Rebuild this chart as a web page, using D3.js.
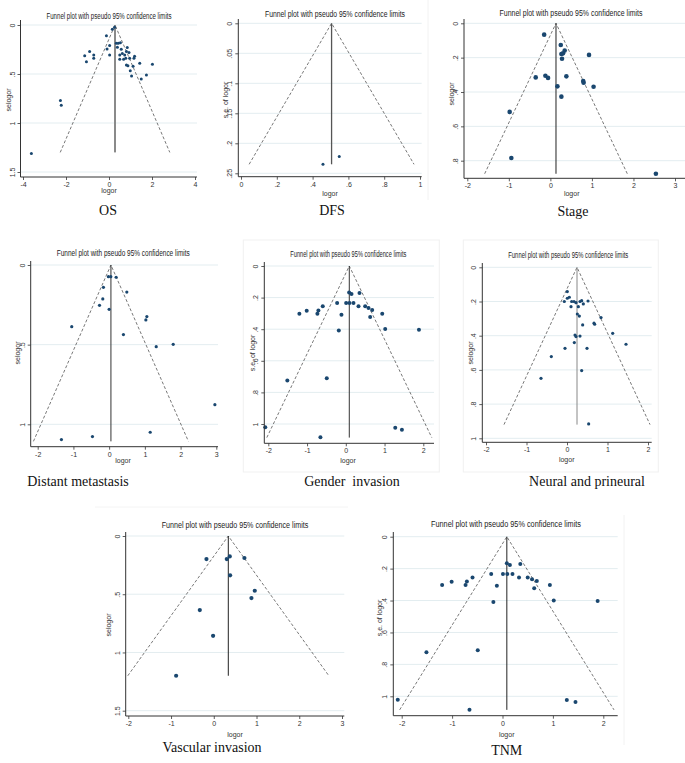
<!DOCTYPE html>
<html><head><meta charset="utf-8">
<script src="https://cdn.jsdelivr.net/npm/d3@7"></script>
<style>body{margin:0;background:#fff}svg{display:block}</style>
</head><body>
<svg id="c" width="685" height="763"></svg>
<script>
const titleText = "Funnel plot with pseudo 95% confidence limits";

// [logor, se] pairs
const osPoints = [[-3.61,1.31],[-2.26,0.77],[-2.22,0.82],[-1.13,0.315],[-1.05,0.376],[-0.90,0.27],[-0.71,0.305],[-0.71,0.34],
 [-0.12,0.11],[-0.09,0.244],[0.03,0.21],[0.03,0.305],[0.155,0.044],[0.26,0.024],[0.34,0.186],[0.39,0.227],[0.43,0.186],
 [0.50,0.305],[0.50,0.35],[0.53,0.18],[0.57,0.247],[0.62,0.29],[0.68,0.35],[0.73,0.305],[0.78,0.34],[0.81,0.27],[0.81,0.407],
 [0.85,0.23],[0.88,0.417],[0.93,0.28],[0.96,0.34],[0.99,0.468],[1.05,0.52],[1.12,0.42],[1.16,0.34],[1.19,0.32],[1.43,0.39],
 [1.50,0.55],[1.74,0.51],[2.02,0.40]];
const dfsPoints = [[0.458,0.235],[0.549,0.222]];
const stagePoints = [[-0.15,0.066],[0.25,0.126],[0.265,0.179],[0.305,0.175],[0.345,0.159],[0.28,0.206],[0.93,0.184],
 [-0.353,0.315],[-0.12,0.305],[-0.056,0.318],[0.385,0.309],[0.79,0.336],[0.80,0.346],[0.17,0.367],[1.04,0.369],
 [0.265,0.427],[-0.98,0.516],[-0.94,0.784],[2.54,0.876]];
const distantPoints = [[-0.02,0.073],[0.047,0.073],[0.196,0.077],[-0.16,0.14],[0.495,0.17],[-0.178,0.213],[-0.27,0.253],
 [0.0,0.278],[1.056,0.324],[1.028,0.345],[-1.047,0.387],[0.40,0.437],[1.318,0.513],[1.794,0.498],[2.96,0.877],
 [1.15,1.05],[-0.467,1.077],[-1.336,1.096]];
const genderPoints = [[-2.078,1.021],[-1.509,0.724],[-1.198,0.302],[-1.009,0.283],[-0.733,0.302],[-0.707,0.281],[-0.595,0.255],
 [-0.491,0.711],[-0.655,1.084],[-0.224,0.234],[-0.181,0.409],[-0.112,0.308],[0.009,0.234],[0.086,0.167],[0.095,0.234],
 [0.147,0.177],[0.198,0.234],[0.328,0.255],[0.353,0.171],[0.50,0.255],[0.586,0.266],[0.629,0.323],[0.681,0.278],
 [0.94,0.302],[1.017,0.399],[1.888,0.403],[1.276,1.023],[1.448,1.036]];
const neuralPoints = [[0.008,0.142],[0.008,0.181],[0.058,0.175],[-0.066,0.2],[0.115,0.2],[0.173,0.2],[0.222,0.207],[0.099,0.23],
 [0.28,0.23],[0.321,0.2],[0.362,0.195],[0.403,0.214],[0.519,0.197],[0.255,0.273],[0.305,0.285],[0.84,0.294],[0.667,0.327],
 [0.683,0.333],[0.387,0.337],[1.128,0.386],[0.198,0.396],[0.222,0.405],[0.321,0.402],[0.181,0.44],[-0.049,0.474],
 [0.494,0.474],[1.457,0.45],[-0.387,0.522],[0.362,0.604],[-0.642,0.649],[0.535,0.916]];
const vascularPoints = [[-0.171,0.198],[0.304,0.198],[0.374,0.175],[0.717,0.189],[0.382,0.338],[0.959,0.47],[0.881,0.533],
 [-0.327,0.636],[-0.016,0.857],[-0.881,1.2]];
const tnmPoints = [[-2.078,1.021],[-1.509,0.724],[-1.198,0.302],[-1.009,0.283],[-0.733,0.302],[-0.707,0.281],[-0.595,0.255],
 [-0.491,0.711],[-0.655,1.084],[-0.224,0.234],[-0.181,0.409],[-0.112,0.308],[0.009,0.234],[0.086,0.167],[0.095,0.234],
 [0.147,0.177],[0.198,0.234],[0.328,0.255],[0.353,0.171],[0.50,0.255],[0.586,0.266],[0.629,0.323],[0.681,0.278],
 [0.94,0.302],[1.017,0.399],[1.888,0.403],[1.276,1.023],[1.448,1.036]];

// pooled estimate and max se per panel
const centers = {OS:0.28, DFS:0.506, Stage:0.135, Distant:0.05, Gender:0.09, Neural:0.247, Vascular:0.34, TNM:0.086};
const seMax   = {OS:1.3, DFS:0.235, Stage:0.876, Distant:1.107, Gender:1.086, Neural:0.92, Vascular:1.2, TNM:1.085};

const ticksA = {x:[-4,-2,0,2,4], xl:["-4","-2","0","2","4"], y:[0,0.5,1,1.5], yl:["0",".5","1","1.5"]};
const ticksB = {x:[0,0.2,0.4,0.6,0.8,1], xl:["0",".2",".4",".6",".8","1"], y:[0,0.05,0.1,0.15,0.2,0.25], yl:["0",".05",".1",".15",".2",".25"]};
const ticksC = {x:[-2,-1,0,1,2,3], xl:["-2","-1","0","1","2","3"], y:[0,0.2,0.4,0.6,0.8], yl:["0",".2",".4",".6",".8"]};
const ticksD = {x:[-2,-1,0,1,2,3], xl:["-2","-1","0","1","2","3"], y:[0,0.5,1], yl:["0",".5","1"]};
const ticksE = {x:[-2,-1,0,1,2], xl:["-2","-1","0","1","2"], y:[0,0.2,0.4,0.6,0.8,1], yl:["0",".2",".4",".6",".8","1"]};
const ticksF = {x:[-2,-1,0,1,2,3], xl:["-2","-1","0","1","2","3"], y:[0,0.5,1,1.5], yl:["0",".5","1","1.5"]};

const panels = [
 {key:"OS", cap:"OS", pts:osPoints, t:ticksA, ylab:"selogor",
  L:{xr:[23,195], yr:[25,172], ax:20.5, ay:177, xEnd:197, yTop:20, title:[109,16,125], xl:[109,193], yl:[9,100], cap:[108,215], r:1.5, vcol:"#8a8a8a", vw:2}},
 {key:"DFS", cap:"DFS", pts:dfsPoints, t:ticksB, ylab:"s.e. of logor",
  L:{xr:[241,420], yr:[23.3,173.3], ax:238.3, ay:176.7, xEnd:421.7, yTop:19, title:[335,14,140], xl:[330,196], yl:[226,100], cap:[332,215], r:1.5, vcol:"#555", vw:1.3}},
 {key:"Stage", cap:"Stage", pts:stagePoints, t:ticksC, ylab:"selogor",
  L:{xr:[467.3,675], yr:[23.3,160.7], ax:464, ay:178.3, xEnd:685, yTop:19, title:[571,12.7,143], xl:[571.7,196], yl:[452,94], cap:[573,216], r:2.3, vcol:"#222", vw:1}},
 {key:"Distant", cap:"Distant metastasis", pts:distantPoints, t:ticksD, ylab:"selogor",
  L:{xr:[37.7,216.3], yr:[265,424.3], ax:30.7, ay:446.7, xEnd:218, yTop:261, title:[123.3,253.3,133], xl:[123,463], yl:[18,353], cap:[78,486], r:1.6, vcol:"#333", vw:1}},
 {key:"Gender", cap:"Gender  invasion", pts:genderPoints, t:ticksE, ylab:"s.e. of logor",
  L:{xr:[268.3,423.3], yr:[266,424], ax:264.3, ay:443.3, xEnd:434, yTop:262, title:[348.3,254,116], xl:[348,463], yl:[253,353], cap:[352,486], r:2, vcol:"#333", vw:1,
     frame:[243.3,240,439.3,472]}},
 {key:"Neural", cap:"Neural and prineural", pts:neuralPoints, t:ticksE, ylab:"selogor",
  L:{xr:[486,648], yr:[267.3,438.3], ax:482.3, ay:442.3, xEnd:651.7, yTop:263, title:[568.3,255,120], xl:[566.7,462], yl:[470.7,353], cap:[587,486], r:1.6, vcol:"#888", vw:1,
     frame:[463.3,240,658.3,472]}},
 {key:"Vascular", cap:"Vascular invasion", pts:vascularPoints, t:ticksF, ylab:"selogor",
  L:{xr:[128.3,342], yr:[536,710.7], ax:125.7, ay:716, xEnd:344.3, yTop:532, title:[235,525,146.7], xl:[235,737], yl:[109,625], cap:[212,752], r:2.1, vcol:"#222", vw:1}},
 {key:"TNM", cap:"TNM", pts:tnmPoints, t:ticksE, ylab:"s.e. of logor",
  L:{xr:[401.7,603.3], yr:[536.7,696.3], ax:393.3, ay:715.7, xEnd:617.7, yTop:532, title:[506,524.3,150], xl:[506.7,737], yl:[380,618], cap:[506.7,755], r:2, vcol:"#222", vw:1}}
];

const svg = d3.select("#c");
const sans = "'Liberation Sans Narrow','Liberation Sans',Arial,sans-serif";
const navy = "#1a476f";

// faint graph-region outlines visible in the reference
svg.append("line").attr("x1",428).attr("x2",428).attr("y1",0).attr("y2",200).attr("stroke","#f2f2f2");
svg.append("line").attr("x1",624).attr("x2",624).attr("y1",515).attr("y2",745).attr("stroke","#f2f2f2");
svg.append("line").attr("x1",95).attr("x2",348).attr("y1",507).attr("y2",507).attr("stroke","#f4f4f4");

panels.forEach(p => {
  const L = p.L, t = p.t;
  const x = d3.scaleLinear().domain([t.x[0], t.x[t.x.length-1]]).range(L.xr);
  const y = d3.scaleLinear().domain([t.y[0], t.y[t.y.length-1]]).range(L.yr);
  const g = svg.append("g");

  if (L.frame) {
    const f = L.frame;
    g.append("rect").attr("x",f[0]).attr("y",f[1]).attr("width",f[2]-f[0]).attr("height",f[3]-f[1])
      .attr("fill","none").attr("stroke","#f1f1f1");
  }

  // gridlines
  g.selectAll("line.grid").data(t.y).join("line")
    .attr("x1", L.ax).attr("x2", L.xEnd).attr("y1", d => y(d)).attr("y2", d => y(d))
    .attr("stroke", "#e3edf0").attr("stroke-width", 1);

  const c = centers[p.key], s = seMax[p.key];
  // pseudo 95% CI dashed lines
  const line = d3.line().x(d => x(d[0])).y(d => y(d[1]));
  g.append("path").attr("d", line([[c - 1.96*s, s],[c,0],[c + 1.96*s, s]]))
    .attr("fill","none").attr("stroke","#555").attr("stroke-width",0.8).attr("stroke-dasharray","3,2");
  // vertical line
  g.append("line").attr("x1", x(c)).attr("x2", x(c)).attr("y1", y(0)).attr("y2", y(s))
    .attr("stroke", L.vcol).attr("stroke-width", L.vw);

  // points
  g.selectAll("circle").data(p.pts).join("circle")
    .attr("cx", d => x(d[0])).attr("cy", d => y(d[1])).attr("r", L.r).attr("fill", navy);

  // axes
  const xa = g.append("g").attr("transform", `translate(0,${L.ay})`)
    .call(d3.axisBottom(x).tickValues(t.x).tickFormat((d,i) => t.xl[i]).tickSize(3).tickPadding(2));
  const ya = g.append("g").attr("transform", `translate(${L.ax},0)`)
    .call(d3.axisLeft(y).tickValues(t.y).tickFormat((d,i) => t.yl[i]).tickSize(3).tickPadding(2));
  [xa, ya].forEach(a => {
    a.select(".domain").remove();
    a.selectAll(".tick line").attr("stroke", "#333").attr("stroke-width", 0.8);
    a.selectAll("text").attr("fill", "#333").style("font-family", sans).style("font-size", "7px");
  });
  ya.selectAll(".tick text").attr("transform","rotate(-90)").attr("x",0).attr("y",-6).attr("dy",0)
    .style("text-anchor","middle");
  g.append("line").attr("x1", L.ax).attr("x2", L.xEnd).attr("y1", L.ay).attr("y2", L.ay)
    .attr("stroke","#333").attr("stroke-width",1);
  g.append("line").attr("x1", L.ax).attr("x2", L.ax).attr("y1", L.yTop).attr("y2", L.ay)
    .attr("stroke","#333").attr("stroke-width",1);

  // title
  g.append("text").attr("x", L.title[0]).attr("y", L.title[1] + 3)
    .attr("text-anchor","middle").attr("textLength", L.title[2]).attr("lengthAdjust","spacingAndGlyphs")
    .style("font-family", sans).style("font-size","8.5px").attr("fill","#222").text(titleText);
  // axis titles
  g.append("text").attr("x", L.xl[0]).attr("y", L.xl[1]).attr("text-anchor","middle")
    .style("font-family", sans).style("font-size","7px").attr("fill","#333").text("logor");
  g.append("text").attr("transform", `translate(${L.yl[0]},${L.yl[1]}) rotate(-90)`).attr("text-anchor","middle")
    .attr("dy","0.35em").style("font-family", sans).style("font-size","7px").attr("fill","#333").text(p.ylab);
  // caption
  g.append("text").attr("x", L.cap[0]).attr("y", L.cap[1]).attr("text-anchor","middle")
    .style("font-family","'Liberation Serif','Times New Roman',serif").style("font-size","14px")
    .attr("fill","#111").style("white-space","pre").attr("xml:space","preserve").text(p.cap);
});
</script>
</body></html>
